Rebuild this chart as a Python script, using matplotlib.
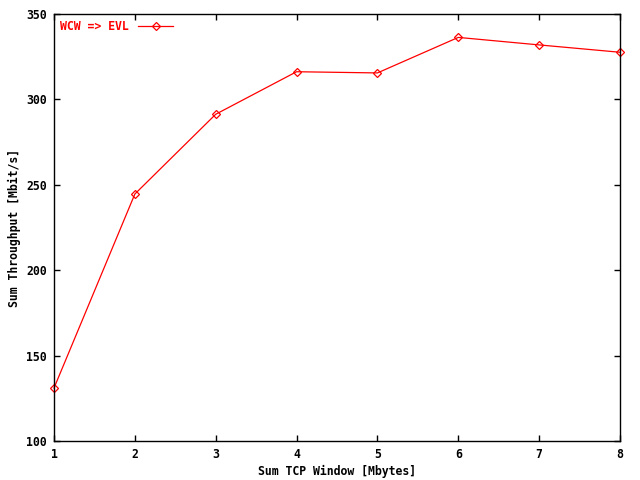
import matplotlib
matplotlib.use("Agg")
import matplotlib.pyplot as plt

window_mb = [1, 2, 3, 4, 5, 6, 7, 8]
throughput = [131.0, 244.6, 291.3, 316.2, 315.5, 336.3, 331.9, 327.6]
series_label = "WCW => EVL"

plt.rcParams['font.family'] = ['DejaVu Sans Mono']
plt.rcParams['font.weight'] = 'bold'

fig = plt.figure(figsize=(6.4, 4.8), dpi=100)
ax = fig.add_axes([54 / 640, 39 / 480, 566 / 640, 427 / 480])

ax.plot(window_mb, throughput, color='red', lw=0.9, marker='D', ms=4.5,
        mfc='none', mec='red', mew=0.9, label=series_label, clip_on=False)

ax.set_xlim(1, 8)
ax.set_ylim(100, 350)
ax.set_xticks(range(1, 9))
ax.set_yticks(range(100, 351, 50))
ax.tick_params(direction='in', length=4, width=1, top=True, right=True,
               labelsize=8.3, pad=5)
for s in ax.spines.values():
    s.set_linewidth(1)

ax.set_xlabel("Sum TCP Window [Mbytes]", fontsize=8.3, fontweight='bold',
              labelpad=3)
ax.set_ylabel("Sum Throughput [Mbit/s]", fontsize=8.3, fontweight='bold')

leg = ax.legend(loc='upper left', frameon=False, markerfirst=False,
                fontsize=8.3, labelcolor='red', handlelength=3.0,
                borderaxespad=0.15, handletextpad=0.8)

fig.savefig("out.png", dpi=100)
